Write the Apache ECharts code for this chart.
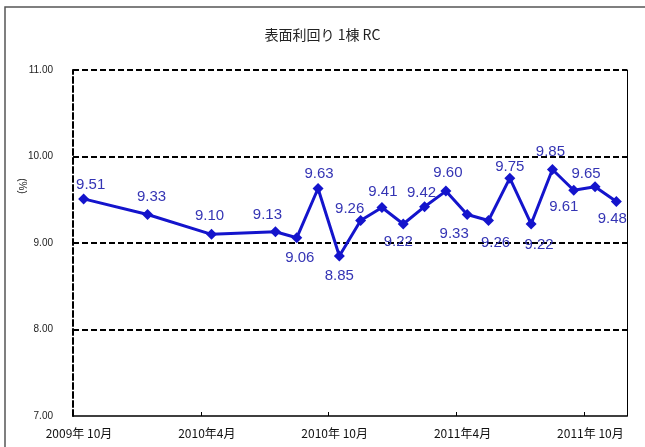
<!DOCTYPE html>
<html><head><meta charset="utf-8">
<script src="https://cdn.jsdelivr.net/npm/echarts@6/dist/echarts.min.js"></script>
<style>html,body{margin:0;padding:0;background:#fff}#c{width:645px;height:447px}</style>
</head><body><div id="c"></div>
<script>
// ---- data ----
const months = ['2009-10','2010-01','2010-04','2010-07','2010-08','2010-09','2010-10','2010-11','2010-12','2011-01','2011-02','2011-03','2011-04','2011-05','2011-06','2011-07','2011-08','2011-09','2011-10','2011-11'];
const yields = [9.51,9.33,9.10,9.13,9.06,9.63,8.85,9.26,9.41,9.22,9.42,9.60,9.33,9.26,9.75,9.22,9.85,9.61,9.65,9.48];
const yMin = 7, yMax = 11, yStep = 1;
const axisStartYear = 2009, axisStartMonth = 10, axisSpanMonths = 26, xTickStepMonths = 6;
const titleText = '表面利回り 1棟 RC';
const yAxisTitle = '(%)';
// ---- label placement (style) ----
const labelOffsets = [[7,-14],[4,-18],[-2,-18],[-8,-17],[3,20],[1,-15],[0,20],[-11,-12],[1,-16],[-5,18],[-3,-14],[2,-18],[-13,19],[7,22],[0,-11],[8,21],[-2,-18],[-10,17],[-9,-13],[-4,17]];

function monthIndex(s){const [y,m]=s.split('-').map(Number);return (y-axisStartYear)*12+(m-axisStartMonth);}
function monthLabel(v){const t=axisStartYear*12+(axisStartMonth-1)+Math.round(v);const y=Math.floor(t/12),m=t%12+1;return y+'年'+(m>=10?' ':'')+m+'月';}

const data = months.map((mo,i)=>({
  value:[monthIndex(mo)+0.5, yields[i]],
  label:{offset:labelOffsets[i]}
}));

const chart = echarts.init(document.getElementById('c'), null, {renderer:'canvas'});
chart.setOption({
  backgroundColor:'#fff',
  animation:false,
  title:{text:titleText,left:'center',top:23,textStyle:{fontSize:14,fontWeight:'normal',color:'#222',fontFamily:"'Noto Sans CJK JP'"}},
  graphic:[
    {type:'rect',shape:{x:5,y:7,width:700,height:500},style:{fill:'none',stroke:'#555',lineWidth:1.5},silent:true},
    {type:'text',x:22,y:186,rotation:-Math.PI/2,style:{text:yAxisTitle,fontSize:10,fill:'#222',align:'center',verticalAlign:'middle',fontFamily:"'Liberation Sans'"}}
  ],
  grid:{left:73,right:18,top:70,bottom:31},
  xAxis:{
    type:'value',min:0,max:axisSpanMonths,interval:xTickStepMonths,
    axisLine:{show:true,lineStyle:{color:'#000',width:1.5}},
    axisTick:{show:true,inside:true,length:4,lineStyle:{color:'#000',width:1}},
    axisLabel:{formatter:monthLabel,color:'#111',fontSize:12,margin:11,padding:[0,0,0,12],fontFamily:"'Noto Sans CJK JP'",showMaxLabel:false},
    splitLine:{show:false}
  },
  yAxis:[{
    type:'value',min:yMin,max:yMax,interval:yStep,
    axisLine:{show:true,lineStyle:{color:'#000',width:2,type:[6,3]}},
    axisTick:{show:false},
    axisLabel:{formatter:v=>v.toFixed(2),color:'#222',fontSize:10,margin:20,fontFamily:"'Liberation Sans Narrow','Liberation Sans'"},
    splitLine:{show:true,showMinLine:false,lineStyle:{color:'#000',width:2,type:[6,3]}}
  },{
    type:'value',min:yMin,max:yMax,position:'right',
    axisLine:{show:true,lineStyle:{color:'#000',width:1}},
    axisTick:{show:false},axisLabel:{show:false},splitLine:{show:false}
  }],
  series:[{
    type:'line',data:data,
    symbol:'diamond',symbolSize:11,
    lineStyle:{color:'#1414cc',width:3},
    itemStyle:{color:'#1414cc'},
    label:{show:true,position:'inside',formatter:p=>p.value[1].toFixed(2),color:'#3434b4',fontSize:15,fontFamily:"'Liberation Sans'"},
    z:5
  }]
});
</script></body></html>
